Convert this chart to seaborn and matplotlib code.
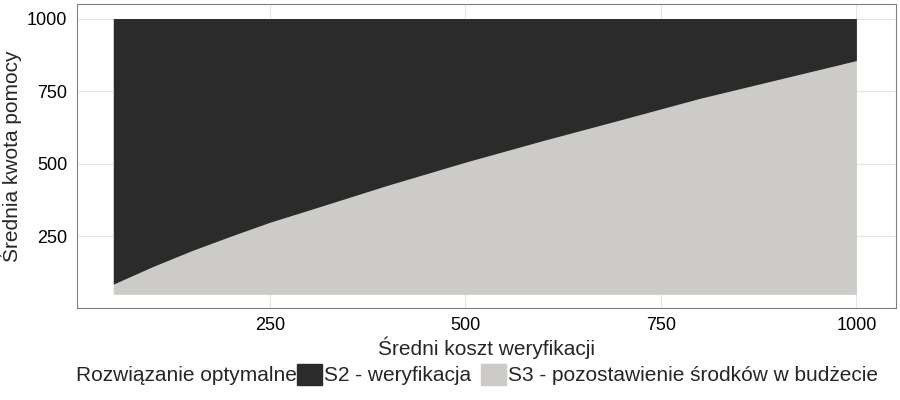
import numpy as np
import pandas as pd
import matplotlib
matplotlib.use("Agg")
import matplotlib.pyplot as plt
import seaborn as sns
from matplotlib.patches import Patch

koszt = [50, 100, 150, 200, 250, 300, 400, 500, 600, 700, 800, 900, 1000]
granica = [85, 145, 200, 250, 298, 340, 425, 505, 580, 652, 725, 790, 855]
y_min, y_max = 50, 1000
xticks = [250, 500, 750, 1000]
yticks = [250, 500, 750, 1000]
kolor_s2 = "#2b2b2b"
kolor_s3 = "#cccbc7"

sns.set_theme(style="whitegrid")
plt.rcParams['font.family'] = ['Liberation Sans', 'DejaVu Sans']

df = pd.DataFrame({"x": koszt, "y": granica})
fig, ax = plt.subplots(figsize=(9, 4), dpi=100)
ax.fill_between(df["x"], y_min, df["y"], color=kolor_s3, linewidth=0)
ax.fill_between(df["x"], df["y"], y_max, color=kolor_s2, linewidth=0)
ax.set_xlim(3, 1050)
ax.set_ylim(3, 1050)
ax.set_xticks(xticks)
ax.set_yticks(yticks)
ax.tick_params(labelsize=13, colors="black", length=3)
ax.grid(color="#e5e5e5", linewidth=0.8)
for s in ax.spines.values():
    s.set_color("#7f7f7f")
    s.set_linewidth(0.8)
ax.set_xlabel("Średni koszt weryfikacji", fontsize=15, labelpad=2)
ax.set_ylabel("Średnia kwota pomocy", fontsize=15)
handles = [Patch(color=kolor_s2, label="S2 - weryfikacja"),
           Patch(color=kolor_s3, label="S3 - pozostawienie środków w budżecie")]
leg = fig.legend(handles=handles, title="Rozwiązanie optymalne", loc="lower center",
                 ncol=2, frameon=False, fontsize=15, title_fontsize=15,
                 bbox_to_anchor=(0.53, -0.01), handlelength=1.2, handleheight=1.2,
                 handletextpad=0.1, columnspacing=0.5)
leg._legend_box.align = "left"
# put title inline
leg.get_title().set_position((0, 0))
leg._legend_box.sep = 0
from matplotlib.offsetbox import HPacker
box = leg._legend_box
box.__class__ = HPacker
fig.subplots_adjust(left=0.085, right=0.995, top=0.99, bottom=0.23)
fig.savefig("out.png")
